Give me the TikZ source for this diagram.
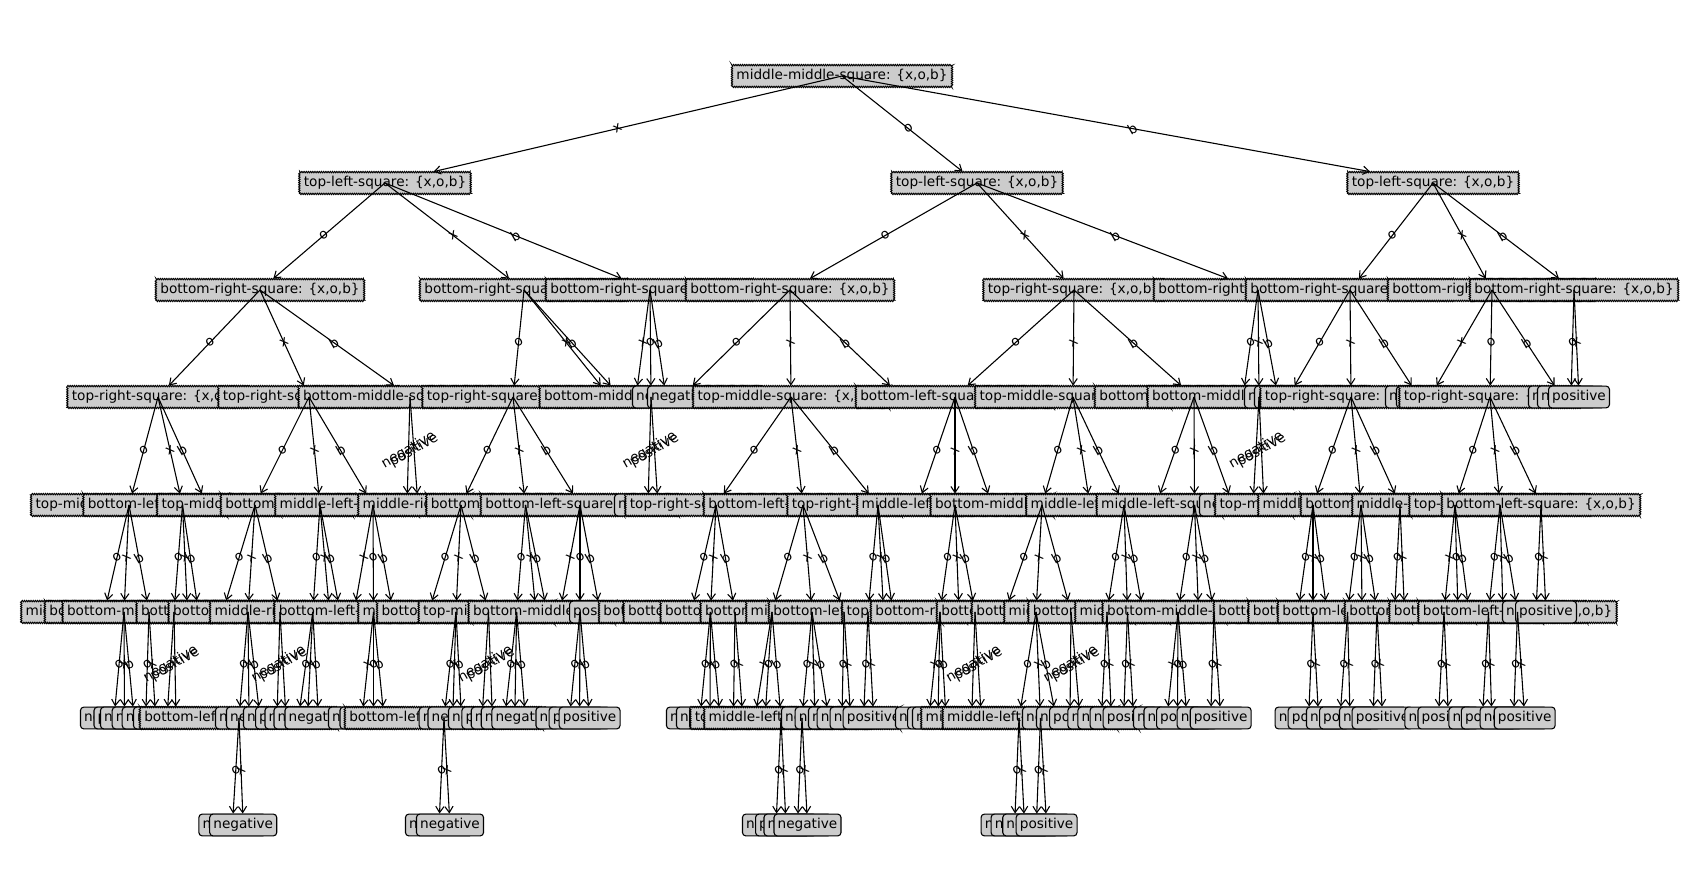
\documentclass[tikz,border=0pt]{standalone}
\usepackage{fontspec}
\setmainfont{DejaVu Sans}
\usetikzlibrary{arrows.meta,decorations.pathmorphing}

\newcommand{\sqlbl}[1]{#1-square: \{x,o,b\}}

\begin{document}
\begin{tikzpicture}[x=0.7326pt, y=-0.7326pt,
    dec/.style={draw, fill=black!20, line width=0.7pt, decorate,
                decoration={zigzag, segment length=1.6pt, amplitude=0.5pt},
                inner xsep=3.3pt, inner ysep=3pt, text height=7.6pt, text depth=2.4pt},
    leaf/.style={draw, fill=black!20, line width=0.8pt, rounded corners=2.5pt,
                 inner xsep=2.7pt, inner ysep=3pt, text height=7.6pt, text depth=2.4pt},
    edge/.style={-{Straight Barb[length=4.5pt,width=6pt]}, line width=0.8pt},
    elbl/.style={pos=0.55, rotate=30, inner sep=0pt},
]
\useasboundingbox (0,0) rectangle (1702,875);

% Root
\node[dec] (root) at (842,76) {\sqlbl{middle-middle}};

% === Level 1 ===
\foreach \pa/\nm/\xx/\kd/\tx/\ed in {
    root/l1n1/385/dec/\sqlbl{top-left}/x,
    root/l1n2/977/dec/\sqlbl{top-left}/o,
    root/l1n3/1433/dec/\sqlbl{top-left}/b} {
  \node[\kd] (\nm) at (\xx,183) {\tx};
  \draw[edge] (\pa.center) -- (\nm) node[elbl] {\ed};
}

% === Level 2 ===
\foreach \pa/\nm/\xx/\kd/\tx/\ed in {
    l1n1/l2n1/260/dec/\sqlbl{bottom-right}/o,
    l1n1/l2n2/524/dec/\sqlbl{bottom-right}/x,
    l1n1/l2n3/650/dec/\sqlbl{bottom-right}/b,
    l1n2/l2n4/790/dec/\sqlbl{bottom-right}/o,
    l1n2/l2n5/1074/dec/\sqlbl{top-right}/x,
    l1n2/l2n6/1258/dec/\sqlbl{bottom-right}/b,
    l1n3/l2n7/1350/dec/\sqlbl{bottom-right}/o,
    l1n3/l2n8/1492/dec/\sqlbl{bottom-right}/x,
    l1n3/l2n9/1574/dec/\sqlbl{bottom-right}/b} {
  \node[\kd] (\nm) at (\xx,290) {\tx};
  \draw[edge] (\pa.center) -- (\nm) node[elbl] {\ed};
}

% === Level 3 ===
\foreach \pa/\nm/\xx/\kd/\tx/\ed in {
    l2n1/l3n1/158/dec/\sqlbl{top-right}/o,
    l2n1/l3n2/309/dec/\sqlbl{top-right}/x,
    l2n1/l3n3/410/dec/\sqlbl{bottom-middle}/b,
    l2n2/l3n4/513/dec/\sqlbl{top-right}/o,
    l2n2/l3n5/610/leaf/negative/x,
    l2n2/l3n6/621/leaf/negative/b,
    l2n3/l3n7/636/leaf/negative/x,
    l2n3/l3n8/651/dec/\sqlbl{bottom-middle}/o,
    l2n3/l3n9/666/leaf/negative/b,
    l2n4/l3n10/681/leaf/negative/o,
    l2n4/l3n11/791/dec/\sqlbl{top-middle}/x,
    l2n4/l3n12/902/leaf/positive/b,
    l2n5/l3n13/955/dec/\sqlbl{bottom-left}/o,
    l2n5/l3n14/1073/dec/\sqlbl{top-middle}/x,
    l2n5/l3n15/1194/dec/\sqlbl{bottom-left}/b,
    l2n6/l3n16/1243/leaf/negative/o,
    l2n6/l3n17/1259/dec/\sqlbl{bottom-middle}/x,
    l2n6/l3n18/1278/leaf/negative/b,
    l2n7/l3n19/1288/leaf/negative/o,
    l2n7/l3n20/1351/dec/\sqlbl{top-right}/x,
    l2n7/l3n21/1419/leaf/negative/b,
    l2n8/l3n22/1430/leaf/negative/x,
    l2n8/l3n23/1490/dec/\sqlbl{top-right}/o,
    l2n8/l3n24/1562/leaf/negative/b,
    l2n9/l3n25/1571/leaf/negative/o,
    l2n9/l3n26/1579/leaf/positive/x} {
  \node[\kd] (\nm) at (\xx,397) {\tx};
  \draw[edge] (\pa.center) -- (\nm) node[elbl] {\ed};
}

% === Level 4 ===
\foreach \pa/\nm/\xx/\kd/\tx/\ed in {
    l3n1/l4n1/129/dec/\sqlbl{top-middle}/o,
    l3n1/l4n2/182.5/dec/\sqlbl{bottom-left}/x,
    l3n1/l4n3/207/leaf/negative/b,
    l3n2/l4n4/255/dec/\sqlbl{top-middle}/o,
    l3n2/l4n5/320/dec/\sqlbl{bottom-left}/x,
    l3n2/l4n6/373/dec/\sqlbl{middle-left}/b,
    l3n3/l4n7/407/leaf/negative/negative,
    l3n3/l4n8/418/leaf/positive/positive,
    l3n4/l4n9/461/dec/\sqlbl{middle-right}/o,
    l3n4/l4n10/525.5/dec/\sqlbl{bottom-left}/x,
    l3n4/l4n11/580/dec/\sqlbl{bottom-left}/b,
    l3n8/l4n12/648/leaf/negative/negative,
    l3n8/l4n13/658/leaf/positive/positive,
    l3n11/l4n14/716/dec/\sqlbl{top-right}/o,
    l3n11/l4n15/803/dec/\sqlbl{bottom-left}/x,
    l3n11/l4n16/878/dec/\sqlbl{top-right}/b,
    l3n13/l4n17/918/leaf/negative/o,
    l3n13/l4n18/955/dec/\sqlbl{middle-left}/x,
    l3n13/l4n19/992/leaf/negative/b,
    l3n14/l4n20/1042/dec/\sqlbl{bottom-middle}/o,
    l3n14/l4n21/1090/leaf/negative/x,
    l3n14/l4n22/1124/dec/\sqlbl{middle-left}/b,
    l3n15/l4n23/1156/leaf/negative/o,
    l3n15/l4n24/1194.5/dec/\sqlbl{middle-left}/x,
    l3n15/l4n25/1233/leaf/negative/b,
    l3n17/l4n26/1253/leaf/negative/negative,
    l3n17/l4n27/1264/leaf/positive/positive,
    l3n20/l4n28/1313/dec/\sqlbl{top-middle}/o,
    l3n20/l4n29/1361/dec/\sqlbl{middle-right}/x,
    l3n20/l4n30/1400/dec/\sqlbl{bottom-left}/b,
    l3n23/l4n31/1455/dec/\sqlbl{middle-right}/o,
    l3n23/l4n32/1500/dec/\sqlbl{top-right}/x,
    l3n23/l4n33/1541/dec/\sqlbl{bottom-left}/b} {
  \node[\kd] (\nm) at (\xx,505) {\tx};
  \draw[edge] (\pa.center) -- (\nm) node[elbl] {\ed};
}

% === Level 5 ===
\foreach \pa/\nm/\xx/\kd/\tx/\ed in {
    l4n1/l5n1/104.5/leaf/negative/o,
    l4n1/l5n2/124/dec/\sqlbl{middle-right}/x,
    l4n1/l5n3/149/dec/\sqlbl{bottom-right}/b,
    l4n2/l5n4/174/dec/\sqlbl{bottom-middle}/o,
    l4n2/l5n5/187.5/leaf/negative/x,
    l4n2/l5n6/198.5/leaf/negative/b,
    l4n4/l5n7/222.7/leaf/negative/o,
    l4n4/l5n8/248/dec/\sqlbl{bottom-middle}/x,
    l4n4/l5n9/280/dec/\sqlbl{bottom-middle}/b,
    l4n5/l5n10/312.8/dec/\sqlbl{middle-right}/o,
    l4n5/l5n11/329.5/leaf/negative/x,
    l4n5/l5n12/340/leaf/negative/b,
    l4n6/l5n13/354/leaf/negative/x,
    l4n6/l5n14/373.5/dec/\sqlbl{bottom-left}/o,
    l4n6/l5n15/393/leaf/negative/b,
    l4n9/l5n16/428.7/leaf/negative/o,
    l4n9/l5n17/456/dec/\sqlbl{middle-left}/x,
    l4n9/l5n18/488.5/dec/\sqlbl{bottom-middle}/b,
    l4n10/l5n19/516.6/dec/\sqlbl{top-middle}/o,
    l4n10/l5n20/536/leaf/negative/x,
    l4n10/l5n21/547/leaf/negative/b,
    l4n11/l5n22/560/leaf/negative/x,
    l4n11/l5n23/580/dec/\sqlbl{bottom-middle}/o,
    l4n11/l5n24/600/leaf/positive/b,
    l4n14/l5n25/691.5/leaf/negative/o,
    l4n14/l5n26/710.4/dec/\sqlbl{bottom-middle}/x,
    l4n14/l5n27/735/dec/\sqlbl{bottom-middle}/b,
    l4n15/l5n28/772/dec/\sqlbl{bottom-middle}/o,
    l4n15/l5n29/812/dec/\sqlbl{bottom-middle}/x,
    l4n15/l5n30/844/dec/\sqlbl{middle-left}/b,
    l4n16/l5n31/868/dec/\sqlbl{bottom-left}/o,
    l4n16/l5n32/883.6/leaf/negative/x,
    l4n16/l5n33/893/leaf/negative/b,
    l4n18/l5n34/940/dec/\sqlbl{top-middle}/o,
    l4n18/l5n35/959/leaf/negative/x,
    l4n18/l5n36/975/dec/\sqlbl{bottom-right}/b,
    l4n20/l5n37/1005/leaf/negative/o,
    l4n20/l5n38/1036/dec/\sqlbl{bottom-left}/x,
    l4n20/l5n39/1071/dec/\sqlbl{bottom-left}/b,
    l4n22/l5n40/1107/dec/\sqlbl{middle-right}/o,
    l4n22/l5n41/1127.5/dec/\sqlbl{bottom-left}/x,
    l4n22/l5n42/1143/leaf/negative/b,
    l4n24/l5n43/1178/dec/\sqlbl{middle-right}/o,
    l4n24/l5n44/1198.5/leaf/negative/x,
    l4n24/l5n45/1214/dec/\sqlbl{bottom-middle}/b,
    l4n28/l5n46/1298/leaf/negative/o,
    l4n28/l5n47/1313/dec/\sqlbl{bottom-left}/x,
    l4n28/l5n48/1327/leaf/negative/b,
    l4n29/l5n49/1347.6/dec/\sqlbl{bottom-left}/o,
    l4n29/l5n50/1362/leaf/negative/x,
    l4n29/l5n51/1377/dec/\sqlbl{bottom-left}/b,
    l4n30/l5n52/1394.4/leaf/negative/o,
    l4n30/l5n53/1404.5/leaf/positive/x,
    l4n31/l5n54/1444/dec/\sqlbl{bottom-left}/x,
    l4n31/l5n55/1458/leaf/negative/o,
    l4n31/l5n56/1469/leaf/negative/b,
    l4n32/l5n57/1488.5/dec/\sqlbl{bottom-left}/o,
    l4n32/l5n58/1503/leaf/negative/x,
    l4n32/l5n59/1517.5/dec/\sqlbl{bottom-left}/b,
    l4n33/l5n60/1536/leaf/negative/o,
    l4n33/l5n61/1546/leaf/positive/x} {
  \node[\kd] (\nm) at (\xx,612) {\tx};
  \draw[edge] (\pa.center) -- (\nm) node[elbl] {\ed};
}

% === Level 6 ===
\foreach \pa/\nm/\xx/\kd/\tx/\ed in {
    l5n2/l6n1/114/leaf/negative/o,
    l5n2/l6n2/124.5/leaf/positive/x,
    l5n2/l6n3/134/leaf/negative/b,
    l5n3/l6n4/145.7/leaf/negative/o,
    l5n3/l6n5/155.7/leaf/negative/x,
    l5n4/l6n6/167/leaf/negative/negative,
    l5n4/l6n7/176/leaf/positive/positive,
    l5n8/l6n8/239/dec/\sqlbl{bottom-left}/o,
    l5n8/l6n9/249/leaf/negative/x,
    l5n8/l6n10/260/leaf/negative/b,
    l5n9/l6n11/277/leaf/negative/negative,
    l5n9/l6n12/286/leaf/positive/positive,
    l5n10/l6n13/298.5/leaf/negative/o,
    l5n10/l6n14/307.5/leaf/negative/x,
    l5n10/l6n15/318.5/leaf/negative/b,
    l5n14/l6n16/362/leaf/negative/x,
    l5n14/l6n17/373.5/leaf/negative/o,
    l5n14/l6n18/384/leaf/negative/b,
    l5n17/l6n19/444/dec/\sqlbl{bottom-left}/o,
    l5n17/l6n20/452.7/leaf/negative/x,
    l5n17/l6n21/461.5/leaf/negative/b,
    l5n18/l6n22/482/leaf/negative/negative,
    l5n18/l6n23/492.4/leaf/positive/positive,
    l5n19/l6n24/504.8/leaf/negative/o,
    l5n19/l6n25/514.8/leaf/negative/x,
    l5n19/l6n26/525.4/leaf/negative/b,
    l5n23/l6n27/569.5/leaf/negative/o,
    l5n23/l6n28/579.6/leaf/positive/x,
    l5n23/l6n29/589.6/leaf/positive/b,
    l5n26/l6n30/700/leaf/negative/o,
    l5n26/l6n31/710/leaf/negative/x,
    l5n26/l6n32/720/leaf/positive/b,
    l5n27/l6n33/733.4/leaf/negative/o,
    l5n27/l6n34/742.8/leaf/negative/x,
    l5n28/l6n35/755/leaf/negative/x,
    l5n28/l6n36/765/leaf/negative/o,
    l5n28/l6n37/781/dec/\sqlbl{top-right}/b,
    l5n29/l6n38/802/dec/\sqlbl{middle-left}/o,
    l5n29/l6n39/815/leaf/negative/x,
    l5n29/l6n40/828.7/leaf/negative/b,
    l5n30/l6n41/842/leaf/negative/o,
    l5n30/l6n42/850.7/leaf/negative/x,
    l5n31/l6n43/863.6/leaf/negative/o,
    l5n31/l6n44/873.6/leaf/positive/x,
    l5n34/l6n45/929/leaf/negative/x,
    l5n34/l6n46/938/leaf/positive/o,
    l5n34/l6n47/946/leaf/negative/b,
    l5n36/l6n48/971.7/leaf/negative/negative,
    l5n36/l6n49/981.3/leaf/positive/positive,
    l5n38/l6n50/1019/dec/\sqlbl{middle-left}/o,
    l5n38/l6n51/1040.5/dec/\sqlbl{middle-left}/x,
    l5n38/l6n52/1056/leaf/negative/b,
    l5n39/l6n53/1070/leaf/negative/negative,
    l5n39/l6n54/1080/leaf/positive/positive,
    l5n40/l6n55/1101.4/leaf/negative/o,
    l5n40/l6n56/1111.4/leaf/negative/x,
    l5n41/l6n57/1123.6/leaf/negative/o,
    l5n41/l6n58/1133.6/leaf/positive/x,
    l5n43/l6n59/1167/leaf/negative/x,
    l5n43/l6n60/1177.5/leaf/negative/o,
    l5n43/l6n61/1187/leaf/positive/b,
    l5n45/l6n62/1210.7/leaf/negative/o,
    l5n45/l6n63/1220.7/leaf/positive/x,
    l5n47/l6n64/1308.6/leaf/negative/o,
    l5n47/l6n65/1318.6/leaf/positive/x,
    l5n49/l6n66/1340/leaf/negative/o,
    l5n49/l6n67/1350/leaf/positive/x,
    l5n51/l6n68/1373/leaf/negative/o,
    l5n51/l6n69/1382.6/leaf/positive/x,
    l5n54/l6n70/1438.4/leaf/negative/o,
    l5n54/l6n71/1448.4/leaf/positive/x,
    l5n57/l6n72/1482.4/leaf/negative/o,
    l5n57/l6n73/1491.8/leaf/positive/x,
    l5n59/l6n74/1513.6/leaf/negative/o,
    l5n59/l6n75/1524.7/leaf/positive/x} {
  \node[\kd] (\nm) at (\xx,718) {\tx};
  \draw[edge] (\pa.center) -- (\nm) node[elbl] {\ed};
}

% === Level 7 ===
\foreach \pa/\nm/\xx/\kd/\tx/\ed in {
    l6n8/l7n1/232.4/leaf/negative/o,
    l6n8/l7n2/243.2/leaf/negative/x,
    l6n19/l7n3/439/leaf/negative/o,
    l6n19/l7n4/450/leaf/negative/x,
    l6n37/l7n5/776/leaf/negative/o,
    l6n37/l7n6/786/leaf/positive/x,
    l6n38/l7n7/797.5/leaf/negative/o,
    l6n38/l7n8/807.5/leaf/negative/x,
    l6n50/l7n9/1014.6/leaf/negative/o,
    l6n50/l7n10/1024.6/leaf/negative/x,
    l6n51/l7n11/1036.3/leaf/negative/o,
    l6n51/l7n12/1046.6/leaf/positive/x} {
  \node[\kd] (\nm) at (\xx,825) {\tx};
  \draw[edge] (\pa.center) -- (\nm) node[elbl] {\ed};
}

\end{tikzpicture}
\end{document}
